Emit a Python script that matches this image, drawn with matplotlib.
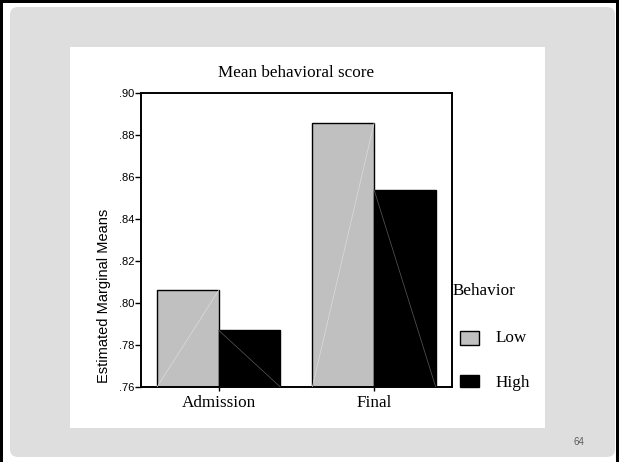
import numpy as np
import matplotlib
matplotlib.use('Agg')
import matplotlib.pyplot as plt
from matplotlib.patches import Rectangle, FancyBboxPatch

# ---- data ----
categories = ['Admission', 'Final']
groups = ['Low', 'High']
low_means = [0.806, 0.8855]
high_means = [0.787, 0.854]
y_ticks = [0.76, 0.78, 0.80, 0.82, 0.84, 0.86, 0.88, 0.90]
y_tick_labels = ['.76', '.78', '.80', '.82', '.84', '.86', '.88', '.90']
title = 'Mean behavioral score'
ylabel = 'Estimated Marginal Means'
legend_title = 'Behavior'
page_number = '64'

SERIF = ['Liberation Serif', 'DejaVu Serif']
SANS = ['Liberation Sans', 'DejaVu Sans']
LOW_COLOR = '#c0c0c0'
HIGH_COLOR = '#000000'

W, H = 619, 462
fig = plt.figure(figsize=(W / 100, H / 100), dpi=100)
fig.patch.set_facecolor('white')

# ---- slide background (pixel coordinates) ----
bg = fig.add_axes([0, 0, 1, 1], zorder=-5)
bg.set_xlim(0, W)
bg.set_ylim(H, 0)
bg.axis('off')
bg.add_patch(FancyBboxPatch((10, 7), 605, 450,
                            boxstyle='round,pad=0,rounding_size=8',
                            fc='#dedede', ec='none'))
bg.add_patch(Rectangle((0, 0), W, 2.5, color='black', lw=0))
bg.add_patch(Rectangle((0, 0), 3, H, color='black', lw=0))
bg.add_patch(Rectangle((616, 0), 3, H, color='black', lw=0))
bg.add_patch(Rectangle((70, 47), 475, 381, fc='white', ec='none'))

# ---- main axes ----
ax = fig.add_axes([141 / W, 1 - 387 / H, 310.7 / W, 294 / H])
ymin, ymax = y_ticks[0], y_ticks[-1]
x = np.arange(len(categories))
w = 0.397
ax.bar(x - w / 2, low_means, w, color=LOW_COLOR, edgecolor='black', linewidth=1.0, zorder=2)
ax.bar(x + w / 2, high_means, w, color=HIGH_COLOR, edgecolor='black', linewidth=1.0, zorder=2)
# faint diagonal artefacts inside bars
for xi, lv, hv in zip(x, low_means, high_means):
    ax.plot([xi - w, xi], [ymin, lv], color='#dcdcdc', lw=0.5, zorder=3)
    ax.plot([xi, xi + w], [hv, ymin], color='#5a5a5a', lw=0.5, zorder=3)

ax.set_xlim(-0.5, len(categories) - 0.5)
ax.set_ylim(ymin, ymax)
ax.set_yticks(y_ticks)
ax.set_yticklabels(y_tick_labels, fontfamily=SANS, fontsize=8)
ax.set_xticks(x)
ax.set_xticklabels(categories, fontfamily=SERIF, fontsize=12.3)
ax.tick_params(axis='y', length=4, width=1.0, pad=1, direction='out')
ax.tick_params(axis='x', length=3, width=1.0, pad=2.5, direction='out')
for s in ax.spines.values():
    s.set_linewidth(1.4)
    s.set_color('black')

# ---- texts in pixel coordinates ----
bg2 = fig.add_axes([0, 0, 1, 1], zorder=5)
bg2.set_xlim(0, W)
bg2.set_ylim(H, 0)
bg2.axis('off')
bg2.text(296, 76.7, title, family=SERIF, fontsize=12.3, ha='center', va='baseline')
bg2.text(104, 296, ylabel, family=SANS, fontsize=10.5, rotation=90, ha='center', va='center')

# legend
bg2.text(453, 295, legend_title, family=SERIF, fontsize=12.3, ha='left', va='baseline')
legend_colors = [LOW_COLOR, HIGH_COLOR]
legend_y = [331, 375]
legend_h = [14, 12]
legend_base = [342, 387]
for g, c, yy, hh, yb in zip(groups, legend_colors, legend_y, legend_h, legend_base):
    bg2.add_patch(Rectangle((459.5, yy), 19, hh, fc=c, ec='black', lw=1.0))
    bg2.text(496, yb, g, family=SERIF, fontsize=12.3, ha='left', va='baseline')

bg2.text(579, 442, page_number, family=SANS, fontsize=7, color='#595959', ha='center', va='center')

fig.savefig('out.png', dpi=100, facecolor=fig.get_facecolor())
